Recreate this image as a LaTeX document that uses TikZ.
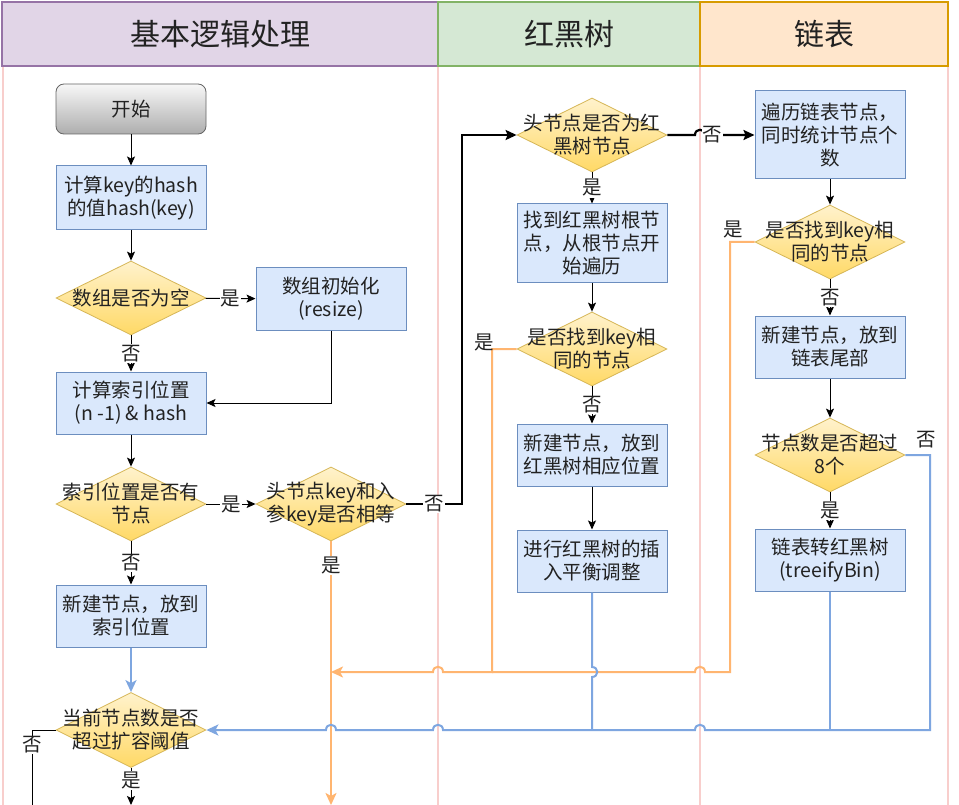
\documentclass[tikz,border=0pt]{standalone}
\usepackage{fontspec}
\setmainfont{Noto Sans CJK SC}
\usetikzlibrary{arrows.meta,shapes.geometric}
\definecolor{boxfill}{HTML}{DAE8FC}
\definecolor{boxline}{HTML}{6C8EBF}
\definecolor{diaTop}{HTML}{FFF2CC}
\definecolor{diaBot}{HTML}{FFD966}
\definecolor{diaLine}{HTML}{D6B656}
\definecolor{lane}{HTML}{F8CECC}
\definecolor{hPurF}{HTML}{E1D5E7}
\definecolor{hPurL}{HTML}{9673A6}
\definecolor{hGrnF}{HTML}{D5E8D4}
\definecolor{hGrnL}{HTML}{82B366}
\definecolor{hOrgF}{HTML}{FFE6CC}
\definecolor{hOrgL}{HTML}{D79B00}
\definecolor{orangeLn}{HTML}{FFB570}
\definecolor{blueLn}{HTML}{7EA6E0}
\definecolor{txt}{HTML}{222222}
\newcommand{\nodefont}{\fontsize{19.5}{23}\selectfont}
\tikzset{
  box/.style={draw=boxline, fill=boxfill, minimum width=150pt, minimum height=62pt, align=center, inner sep=1pt, font=\nodefont, text=txt, line width=1pt},
  dia/.style={diamond, draw=diaLine, top color=diaTop, bottom color=diaBot, minimum width=150pt, minimum height=74pt, inner sep=0pt, line width=0.8pt},
  dtext/.style={align=center, font=\nodefont, text=txt, inner sep=0pt},
  hdr/.style={line width=1.2pt, font=\fontsize{30}{34}\selectfont, text=txt},
  lbl/.style={fill=white, inner sep=1pt, font=\nodefont, text=txt},
  blk/.style={draw=black, line width=1pt, -{Stealth[length=9pt,width=8pt,inset=2pt]}},
  blkthick/.style={draw=black, line width=2.2pt, -{Stealth[length=11pt,width=10pt,inset=2pt]}},
  org/.style={draw=orangeLn, line width=2pt, -{Stealth[length=12pt,width=11pt,inset=3pt]}},
  blu/.style={draw=blueLn, line width=2pt, -{Stealth[length=12pt,width=11pt,inset=3pt]}},
  lanel/.style={draw=lane, line width=1.5pt}
}
\begin{document}
\begin{tikzpicture}[x=1pt,y=-1pt]
\useasboundingbox (0,0) rectangle (959,805);
\fill[white] (0,0) rectangle (959,805);
% lanes
\draw[lanel] (3,66) -- (3,805);
\draw[lanel] (438,66) -- (438,805);
\draw[lanel] (700,66) -- (700,805);
\draw[lanel] (948,66) -- (948,805);
% headers
\node[hdr, draw=hPurL, fill=hPurF, minimum width=436pt, minimum height=64pt] (h1) at (220,34) {基本逻辑处理};
\node[hdr, draw=hGrnL, fill=hGrnF, minimum width=262pt, minimum height=64pt] (h2) at (569,34) {红黑树};
\node[hdr, draw=hOrgL, fill=hOrgF, minimum width=248pt, minimum height=64pt] (h3) at (824,34) {链表};

% nodes
\node[draw=black!60, top color=black!3, bottom color=black!32, rounded corners=8pt, minimum width=150pt, minimum height=50pt, font=\nodefont, text=txt, line width=0.8pt] (start) at (131,109) {开始};
\node[box, minimum height=64pt] (hash) at (131,198) {计算key的hash\\的值hash(key)};
\node[dia] (d1) at (131,298) {};
\node[dtext] (d1t) at (d1) {数组是否为空};
\node[box] (init) at (331,299) {数组初始化\\(resize)};
\node[box] (idx) at (131,403) {计算索引位置\\(n -1) \& hash};
\node[dia] (d2) at (131,504) {};
\node[dtext] (d2t) at (d2) {索引位置是否有\\节点};
\node[dia] (d3) at (331,504) {};
\node[dtext] (d3t) at (d3) {头节点key和入\\参key是否相等};
\node[box] (newIdx) at (131,616) {新建节点，放到\\索引位置};
\node[dia, minimum height=75pt] (d4) at (131,730) {};
\node[dtext] (d4t) at (d4) {当前节点数是否\\超过扩容阈值};

\node[dia] (d5) at (592,135) {};
\node[dtext] (d5t) at (d5) {头节点是否为红\\黑树节点};
\node[box, minimum height=79pt] (rb1) at (592,243.5) {找到红黑树根节\\点，从根节点开\\始遍历};
\node[dia] (d6) at (592,349) {};
\node[dtext] (d6t) at (d6) {是否找到key相\\同的节点};
\node[box] (rb2) at (592,455) {新建节点，放到\\红黑树相应位置};
\node[box] (rb3) at (592,561) {进行红黑树的插\\入平衡调整};

\node[box, minimum height=88pt] (l1) at (830,135) {遍历链表节点，\\同时统计节点个\\数};
\node[dia] (d7) at (830,242) {};
\node[dtext] (d7t) at (d7) {是否找到key相\\同的节点};
\node[box] (l2) at (830,347) {新建节点，放到\\链表尾部};
\node[dia] (d8) at (830,455) {};
\node[dtext] (d8t) at (d8) {节点数是否超过\\8个};
\node[box] (l3) at (830,560) {链表转红黑树\\(treeifyBin)};

% black connectors
\draw[blk] (start) -- (hash);
\draw[blk] (hash) -- (d1);
\draw[blk] (d1) -- node[lbl]{是} (init);
\draw[blk] (d1) -- node[lbl]{否} (idx);
\draw[blk] (init.south) |- (idx.east);
\draw[blk] (idx) -- (d2);
\draw[blk] (d2) -- node[lbl]{是} (d3);
\draw[blk] (d2) -- node[lbl]{否} (newIdx);
\draw[blkthick] (d3.east) -- node[lbl]{否} (462,504) -- (462,135) -- (d5.west);
\draw[blkthick] (d5.east) -- (695,135) .. controls (695,128) and (705,128) .. (705,135) -- node[lbl, pos=0.15]{否} (l1.west);
\draw[blk] (d5) -- node[lbl]{是} (rb1);
\draw[blk] (rb1) -- (d6);
\draw[blk] (d6) -- node[lbl]{否} (rb2);
\draw[blk] (rb2) -- (rb3);
\draw[blk] (l1) -- (d7);
\draw[blk] (d7) -- node[lbl]{否} (l2);
\draw[blk] (l2) -- (d8);
\draw[blk] (d8) -- node[lbl]{是} (l3);
\draw[blk] (d4.south) -- node[lbl, pos=0.34]{是} (131,805);
\draw[draw=black, line width=1pt] (d4.west) -- (32,730) -- node[lbl, pos=0.2]{否} (32,805);

% orange connectors
\draw[org] (d3.south) -- node[lbl, pos=0.09]{是} (331,805);
\draw[org] (d6.west) -- (492,349) -- (492,672) -- (443,672) .. controls (443,665) and (433,665) .. (433,672) -- (331,672);
\draw[draw=orangeLn, line width=2pt] (d7.west) -- (730,242) -- (730,672) -- (705,672) .. controls (705,665) and (695,665) .. (695,672) -- (492,672);
\node[lbl, fill=none] (y6) at (484,342) {是};
\node[lbl, fill=none] (y7) at (733,230) {是};

% blue connectors
\draw[blu] (newIdx) -- (d4);
\draw[blu] (d8.east) -- (930,455) -- (930,730) -- (705,730) .. controls (705,723) and (695,723) .. (695,730) -- (443,730) .. controls (443,723) and (433,723) .. (433,730) -- (336,730) .. controls (336,723) and (326,723) .. (326,730) -- (d4.east);
\draw[draw=blueLn, line width=2pt] (rb3.south) -- (592,667) .. controls (599,667) and (599,677) .. (592,677) -- (592,730);
\draw[draw=blueLn, line width=2pt] (l3.south) -- (830,730);
\node[lbl, fill=none] (n8) at (926,440) {否};
\end{tikzpicture}
\end{document}
